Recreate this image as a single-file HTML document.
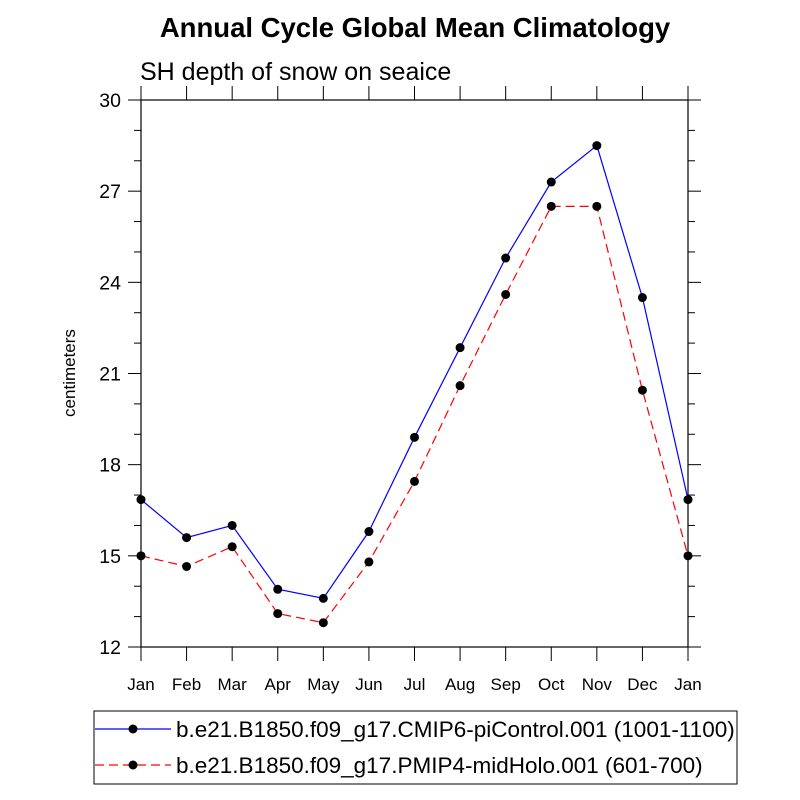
<!DOCTYPE html>
<html><head><meta charset="utf-8"><style>body{margin:0;background:#fff}svg{display:block}text{font-family:"Liberation Sans",sans-serif}</style></head>
<body>
<svg id="c" width="800" height="800" xmlns="http://www.w3.org/2000/svg">
<text x="415" y="37" text-anchor="middle" font-size="27.5" font-weight="bold">Annual Cycle Global Mean Climatology</text>
<text x="140" y="80" font-size="25">SH depth of snow on seaice</text>
<text transform="translate(75,373) rotate(-90)" text-anchor="middle" font-size="17">centimeters</text>
<g id="axes"></g><g id="series"></g>
<g>
<rect x="94" y="711" width="643" height="73" fill="#fff" stroke="#000" stroke-width="1"/>
<line x1="95" y1="729" x2="171" y2="729" stroke="#0000ff" stroke-width="1.2"/>
<circle cx="133" cy="729" r="4.5"/>
<text x="176" y="737" font-size="22.5">b.e21.B1850.f09_g17.CMIP6-piControl.001 (1001-1100)</text>
<line x1="95" y1="765" x2="171" y2="765" stroke="#ff0000" stroke-width="1.2" stroke-dasharray="9,5"/>
<circle cx="133" cy="765" r="4.5"/>
<text x="176" y="773" font-size="22.5">b.e21.B1850.f09_g17.PMIP4-midHolo.001 (601-700)</text>
</g>
</svg>
<script>
const months=["Jan","Feb","Mar","Apr","May","Jun","Jul","Aug","Sep","Oct","Nov","Dec","Jan"];
const piControl=[16.85,15.6,16.0,13.9,13.6,15.8,18.9,21.85,24.8,27.3,28.5,23.5,16.85];
const midHolo=[15.0,14.65,15.3,13.1,12.8,14.8,17.45,20.6,23.6,26.5,26.5,20.45,15.0];
const yTicks=[12,15,18,21,24,27,30];
const X0=141,X1=688,Y0=647,Y1=100,YMIN=12,YMAX=30;
const xs=i=>X0+i*(X1-X0)/(months.length-1);
const ys=v=>Y0-(v-YMIN)*(Y0-Y1)/(YMAX-YMIN);
const NS="http://www.w3.org/2000/svg";
function mk(t,a,p){const e=document.createElementNS(NS,t);for(const k in a)e.setAttribute(k,a[k]);p.appendChild(e);return e;}
const ax=document.getElementById('axes');
const frame=mk('rect',{x:X0,y:Y1,width:X1-X0,height:Y0-Y1,fill:'none',stroke:'#000','stroke-width':1.2},ax);


months.forEach((m,i)=>{
  const x=xs(i);
  mk('line',{x1:x,y1:Y0,x2:x,y2:Y0+14,stroke:'#000'},ax);
  mk('line',{x1:x,y1:Y1,x2:x,y2:Y1-14,stroke:'#000'},ax);
  const t=mk('text',{x:x,y:Y0+43,'text-anchor':'middle','font-size':17},ax);
  t.textContent=m;
  
  
});
for(let v=YMIN;v<=YMAX;v++){
  const y=ys(v),maj=(v%3===0);
  mk('line',{x1:X0,y1:y,x2:X0-(maj?13:7),y2:y,stroke:'#000'},ax);
  mk('line',{x1:X1,y1:y,x2:X1+(maj?13:7),y2:y,stroke:'#000'},ax);
}
yTicks.forEach(v=>{
  const t=mk('text',{x:X0-20,y:ys(v)+7,'text-anchor':'end','font-size':19.5},ax);
  t.textContent=v;
  
  
});
const sg=document.getElementById('series');
function series(vals,color,dash,name){
  const g=mk('g',{},sg);
  
  
  const a={points:vals.map((v,i)=>xs(i)+','+ys(v)).join(' '),fill:'none',stroke:color,'stroke-width':1.2};
  if(dash)a['stroke-dasharray']=dash;
  mk('polyline',a,g);
  vals.forEach((v,i)=>{
    const c=mk('circle',{cx:xs(i),cy:ys(v),r:4.5,fill:'#000'},g);
    
    
  });
}
series(piControl,'#0000ff',null,'series-picontrol');
series(midHolo,'#ff0000','9,5','series-midholo');
</script>
</body></html>
